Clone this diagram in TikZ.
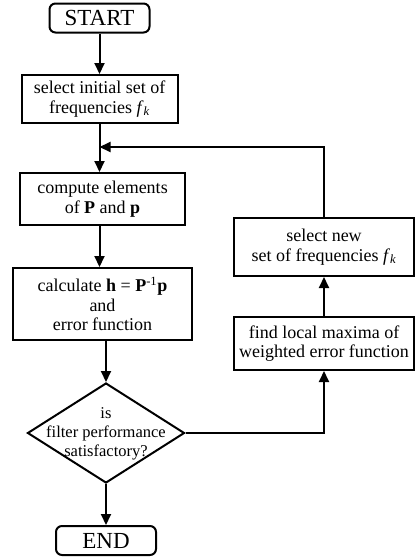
\documentclass[tikz,border=0pt]{standalone}
\usepackage{fontspec}
\setmainfont{Liberation Serif}
\usetikzlibrary{arrows.meta,shapes.geometric}
\begin{document}
\begin{tikzpicture}[x=1pt,y=-1pt,
  txt/.style={align=center,inner sep=0pt,font=\fontsize{18}{19.5}\selectfont},
  dtxt/.style={align=center,inner sep=0pt,font=\fontsize{16.5}{19}\selectfont},
  box/.style={draw,line width=2pt,minimum width=#1,txt},
  term/.style={draw,line width=2pt,rounded corners=6pt,minimum width=100pt,minimum height=29pt,
    inner sep=0pt,font=\fontsize{23}{24}\selectfont},
  dec/.style={draw,line width=2pt,diamond,minimum width=157pt,minimum height=100pt,inner sep=0pt},
  conn/.style={line width=2pt},
  arr/.style={conn,-{Triangle[length=11pt,width=10pt]}}]
\useasboundingbox (0,0) rectangle (418,560);
\node[term] (start) at (99.5,18) {START};
\node[box=156pt,minimum height=48pt] (init) at (99.5,99) {select initial set of\\frequencies \textit{f}\textsubscript{\textit{k}}};
\node[box=165pt,minimum height=52pt] (comp) at (102.5,199) {compute elements\\of \textbf{P} and \textbf{p}};
\node[box=179pt,minimum height=72pt] (calc) at (102.5,304) {calculate \textbf{h} = \textbf{P}\textsuperscript{-1}\textbf{p}\\and\\error function};
\node[dec] (dec) at (106,433) {};
\node[dtxt] (dect) at (106,434) {is\\filter performance\\satisfactory?};
\node[term] (end) at (106,540.5) {END};
\node[box=180pt,minimum height=53pt] (find) at (324,343.5) {find local maxima of\\weighted error function};
\node[box=180pt,minimum height=58pt] (sel) at (324,247) {select new\\set of frequencies \textit{f}\textsubscript{\textit{k}}};
\coordinate (j) at (99.5,147);
\draw[arr] (start) -- (init);
\draw[conn] (init.south) -- (j);
\draw[arr] (j) -- (j |- comp.north);
\draw[arr] (comp.south -| j) -- (j |- calc.north);
\draw[arr] (calc.south -| dec.north) -- (dec.north);
\draw[arr] (dec.south) -- (end.north);
\draw[arr] (dec.east) -| (find.south);
\draw[arr] (find.north) -- (sel.south);
\draw[arr] (sel.north) |- (j);
\end{tikzpicture}
\end{document}
